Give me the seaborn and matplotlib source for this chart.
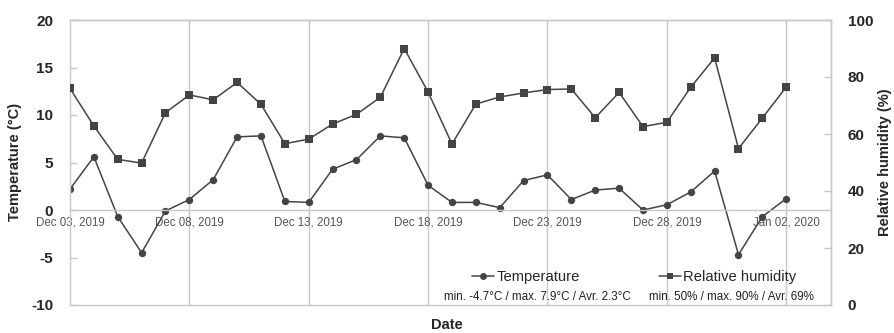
import matplotlib
matplotlib.use("Agg")
import matplotlib.pyplot as plt
import matplotlib.dates as mdates
from matplotlib.lines import Line2D
import seaborn as sns
import pandas as pd

# ---- data ----
dates = pd.date_range("2019-12-03", "2020-01-02", freq="D")
temperature = [2.2, 5.6, -0.7, -4.5, -0.1, 1.1, 3.2, 7.7, 7.8, 0.9, 0.8,
               4.3, 5.3, 7.8, 7.6, 2.6, 0.8, 0.8, 0.25, 3.1, 3.7, 1.1,
               2.1, 2.3, 0.0, 0.55, 1.9, 4.1, -4.7, -0.7, 1.2]
humidity = [76.0, 62.8, 51.1, 49.8, 67.5, 73.7, 72.0, 78.1, 70.4, 56.6, 58.2,
            63.5, 66.9, 72.9, 90.0, 74.7, 56.5, 70.5, 73.0, 74.4, 75.6, 75.8,
            65.7, 74.6, 62.6, 64.1, 76.4, 86.7, 54.9, 65.6, 76.5]
temp_ticks = [-10, -5, 0, 5, 10, 15, 20]
hum_ticks = [0, 20, 40, 60, 80, 100]
date_ticks = ["2019-12-03", "2019-12-08", "2019-12-13", "2019-12-18",
              "2019-12-23", "2019-12-28", "2020-01-02"]
temp_stats = "min. -4.7\u00b0C / max. 7.9\u00b0C / Avr. 2.3\u00b0C"
hum_stats = "min. 50% / max. 90% / Avr. 69%"

df = pd.DataFrame({"Date": dates, "Temperature": temperature,
                   "Humidity": humidity})

sns.set_theme(style="white")
plt.rcParams["font.family"] = ["Liberation Sans", "DejaVu Sans"]
plt.rcParams["axes.unicode_minus"] = False

LINE = "#444444"
GRID = "#c8c8c8"

fig = plt.figure(figsize=(8.94, 3.33), dpi=100)
ax = fig.add_axes([70 / 894, 1 - 305 / 333, (831 - 70) / 894, (305 - 20) / 333])
ax2 = ax.twinx()

sns.lineplot(data=df, x="Date", y="Temperature", ax=ax, color=LINE,
             marker="o", markersize=5.3, markeredgewidth=0, linewidth=1.1)
sns.lineplot(data=df, x="Date", y="Humidity", ax=ax2, color=LINE,
             marker="s", markersize=5.3, markeredgewidth=0, linewidth=1.1)

ax.set_xlim(pd.Timestamp("2019-12-03"), pd.Timestamp("2020-01-03 21:00"))
ax.set_ylim(-10, 20)
ax2.set_ylim(0, 100)
ax.set_yticks(temp_ticks)
ax2.set_yticks(hum_ticks)
ax.set_xticks(pd.to_datetime(date_ticks))
ax.xaxis.set_major_formatter(mdates.DateFormatter("%b %d, %Y"))

for t in pd.to_datetime(date_ticks)[1:]:
    ax.axvline(t, color=GRID, lw=1.0, zorder=0)

# spines
for sp in ax.spines.values():
    sp.set_color(GRID)
    sp.set_linewidth(1.0)
for sp in ax2.spines.values():
    sp.set_color(GRID)
    sp.set_linewidth(1.0)
ax.spines["bottom"].set_position(("data", 0))
ax2.spines["left"].set_visible(False)

ax.tick_params(axis="x", length=0, pad=5, labelsize=8.3, labelcolor="#555555")
ax.tick_params(axis="y", direction="in", length=5, color=GRID, width=1,
               labelsize=11, pad=12)
ax2.tick_params(axis="y", direction="in", length=5, color=GRID, width=1,
                labelsize=11, pad=12)
for lab in ax.get_yticklabels() + ax2.get_yticklabels():
    lab.set_fontweight("bold")

ax.set_xlabel("")
ax.set_ylabel("")
ax2.set_ylabel("")
fig.text(15 / 894, 1 - 162 / 333, "Temperature (\u00b0C)", rotation=90,
         ha="center", va="center", fontsize=10.5, fontweight="bold")
fig.text(885 / 894, 1 - 162 / 333, "Relative humidity (%)", rotation=90,
         ha="center", va="center", fontsize=10.5, fontweight="bold")
fig.text(447 / 894, 1 - 325 / 333, "Date", ha="center", va="center",
         fontsize=10.5, fontweight="bold")

handles = [Line2D([], [], color=LINE, marker="o", markersize=5, lw=1.1,
                  markeredgewidth=0),
           Line2D([], [], color=LINE, marker="s", markersize=5, lw=1.1,
                  markeredgewidth=0)]
leg = ax2.legend(handles, ["Temperature", "Relative humidity"], ncol=2,
                 loc="center left",
                 bbox_to_anchor=(472 / 894, 1 - 277 / 333),
                 bbox_transform=fig.transFigure, frameon=False,
                 fontsize=10.6, handlelength=1.5, handletextpad=0.15,
                 columnspacing=5.4, borderpad=0, borderaxespad=0)
fig.text(537 / 894, 1 - 297 / 333, temp_stats, ha="center", va="center",
         fontsize=8.4, color="#222222")
fig.text(731 / 894, 1 - 297 / 333, hum_stats, ha="center", va="center",
         fontsize=8.4, color="#222222")

fig.savefig("out.png", dpi=100)
